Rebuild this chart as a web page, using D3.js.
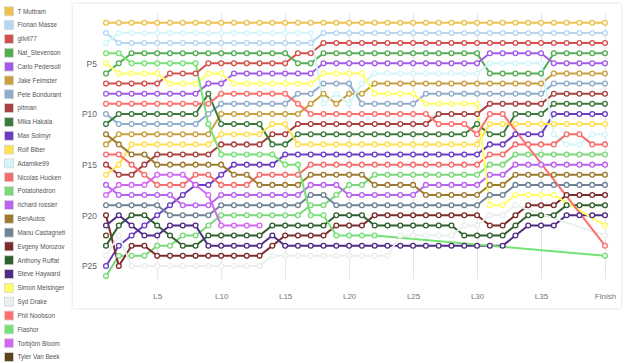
<!DOCTYPE html>
<html>
<head>
<meta charset="utf-8">
<script src="https://cdn.jsdelivr.net/npm/d3@7/dist/d3.min.js"></script>
<style>
  body { margin: 0; background: #fff; }
  text { font-family: "Liberation Sans", Arial, sans-serif; }
</style>
</head>
<body>
<svg id="chart" width="625" height="363"></svg>
<script>
'use strict';

const laps = d3.range(1, 40).map(i => "L" + i).concat(["Finish"]);
const tickLabels = ["L5", "L10", "L15", "L20", "L25", "L30", "L35", "Finish"];
const posTicks = [5, 10, 15, 20, 25];

const drivers = ["T Muttram", "Florian Masse", "gilvil77", "Nat_Stevenson", "Carlo Pedersoli",
  "Jake Feimster", "Pete Bondurant", "pitman", "Mika Hakala", "Max Solmyr", "Rolf Biber",
  "Adamike99", "Nicolas Hucken", "Potatohedron", "richard rossier", "BenAutos",
  "Manu Castagneti", "Evgeny Morozov", "Anthony Ruffat", "Steve Hayward", "Simon Meisinger",
  "Syd Drake", "Phil Noobson", "Flashor", "Torbjörn Bloom", "Tyler Van Beek"];

const colors = ["#efc14c", "#b6d7f2", "#d3504e", "#53ad53", "#a25ae9",
  "#c8a03e", "#8fadca", "#a8413f", "#3e7a3e", "#6c3cc4", "#ffe04e",
  "#d3f6f9", "#f76b6b", "#79d879", "#ba62f2", "#9c7b2f",
  "#6e8395", "#7c2b2b", "#2f5f2f", "#4f2b86", "#ffff63",
  "#e8efec", "#ff6d6d", "#74e274", "#d466f3", "#5d451b"];

const _ = null;
// positions per lap: L1 ... L39, Finish (null = no marker on that lap)
const tMuttram   = [1,1,1,1,1,1,1,1,1,1, 1,1,1,1,1,1,1,1,1,1, 1,1,1,1,1,1,1,1,1,1, 1,1,1,1,1,1,1,1,1,1];
const florian    = [2,3,3,3,3,3,3,3,3,3, 3,3,3,3,3,3,3,2,2,2, 2,2,2,2,2,2,2,2,2,2, 2,2,2,2,2,2,2,2,2,2];
const gilvil     = [7,7,7,7,7,6,6,6,5,5, 5,5,5,5,5,4,4,3,3,3, 3,3,3,3,3,3,3,3,3,3, 3,3,3,3,3,3,3,3,3,3];
const nat        = [6,5,4,4,4,4,4,4,4,4, 4,4,4,4,4,5,5,4,4,4, 4,4,4,4,4,4,4,4,4,4, 6,6,6,6,6,4,4,4,4,4];
const carlo      = [8,8,8,8,8,8,8,8,7,7, 6,6,6,6,6,6,6,5,5,5, 5,5,5,5,5,5,5,5,5,5, 4,4,4,4,4,5,5,5,5,5];
const jake       = [13,12,12,12,12,12,12,12,12,10, 10,10,10,10,10,10,9,8,9,8, 8,7,7,7,7,7,7,7,7,7, 7,7,7,7,7,6,6,6,6,6];
const pete       = [10,11,11,11,11,11,11,11,10,9, 9,9,9,9,9,8,8,7,7,7, 9,9,9,9,9,8,8,8,8,8, 8,8,8,8,8,7,7,7,7,7];
const pitman     = [15,16,16,15,14,14,14,14,14,13, 13,13,13,12,12,11,11,11,11,11, 11,11,11,11,11,11,10,10,10,10, 9,9,9,9,9,8,8,8,8,8];
const mika       = [11,10,10,10,10,10,10,10,8,11, 11,11,11,13,13,12,12,12,12,12, 12,12,12,12,12,12,12,12,12,11, 12,12,10,10,10,9,9,9,9,9];
const max        = [25,23,22,21,20,19,18,17,17,16, 15,15,15,15,14,14,14,14,14,14, 14,14,14,14,14,14,14,14,14,14, 13,13,12,12,12,10,10,10,10,10];
const rolf       = [16,15,13,13,13,13,13,13,13,12, 12,12,12,11,11,13,13,13,13,13, 13,13,13,13,13,13,13,13,13,13, 11,11,11,11,11,11,11,11,11,11];
const adamike    = [3,2,2,2,2,2,2,2,2,2, 2,2,2,2,2,2,2,9,8,9, 7,6,6,6,6,6,6,6,6,6, 5,5,5,5,5,12,13,13,12,12];
const nicolas    = [14,14,15,16,17,17,17,16,16,17, 17,17,16,16,16,16,15,15,15,15, 15,15,15,15,15,15,15,15,15,15, 14,14,13,13,13,13,12,12,13,13];
const potato     = [26,24,24,24,23,23,22,22,21,20, 20,20,20,20,20,20,19,19,18,17, 17,16,16,16,16,16,16,16,16,16, 15,15,14,14,14,14,14,14,14,14];
const richard    = [17,18,18,18,18,18,19,19,19,18, 18,18,18,18,18,18,17,17,17,18, 18,18,18,18,18,17,17,17,17,17, 16,16,15,15,15,15,15,15,15,15];
const benAutos   = [12,13,14,14,15,15,15,15,15,15, 16,16,17,17,17,17,16,16,16,16, 16,17,17,17,17,18,18,18,18,18, 17,17,16,16,16,16,16,16,16,16];
const manu       = [19,19,19,19,19,20,20,20,20,19, 19,19,19,19,19,19,18,18,19,19, 19,19,19,19,19,19,19,19,19,19, 18,18,17,17,17,17,17,17,17,17];
const evgeny     = [20,25,23,23,24,24,24,24,24,24, 24,24,24,23,22,22,22,22,21,21, 21,20,20,20,20,20,20,20,20,20, 21,21,20,19,19,19,18,18,18,18];
const anthony    = [23,21,20,20,21,22,23,23,22,22, 22,22,22,21,21,21,21,21,20,20, 20,21,21,21,21,21,21,21,22,22, 22,22,21,20,20,20,19,19,19,19];
const steve      = [21,20,21,22,22,21,21,21,23,23, 23,23,23,22,23,23,23,23,23,23, 23,23,23,23,23,23,23,23,23,23, 23,23,22,21,21,21,20,20,20,20];
const simon      = [5,6,6,6,6,7,7,7,6,6, 7,7,7,7,7,7,7,6,6,6, 6,8,8,8,8,9,9,9,9,9, 19,19,18,18,18,18,_,_,_,21];
const syd        = [24,22,25,25,25,25,25,25,25,25, 25,25,25,24,24,24,24,24,24,24, 24,24,24,22,22,22,22,22,21,21, 20,20,19,_,_,_,_,_,_,22];
const phil       = [9,9,9,9,9,9,9,9,9,8, 8,8,8,8,8,9,10,10,10,10, 10,10,10,10,10,10,11,11,11,12, 10,10,_,_,_,_,_,_,_,23];
const flashor    = [4,4,5,5,5,5,5,5,11,14, 14,14,14,14,15,15,20,20,22,22, 22,22,_,_,_,_,_,_,_,_, _,_,_,_,_,_,_,_,_,24];
const torbjorn   = [18,17,17,17,16,16,16,17,18,21, 21,21,21,_,_,_,_,_,_,_, _,_,_,_,_,_,_,_,_,_, _,_,_,_,_,_,_,_,_,_];
const tyler      = [22,_,_,_,_,_,_,_,_,_, _,_,_,_,_,_,_,_,_,_, _,_,_,_,_,_,_,_,_,_, _,_,_,_,_,_,_,_,_,_];

const positions = [tMuttram, florian, gilvil, nat, carlo, jake, pete, pitman, mika, max, rolf,
  adamike, nicolas, potato, richard, benAutos, manu, evgeny, anthony, steve, simon,
  syd, phil, flashor, torbjorn, tyler];

const series = drivers.map((name, k) => ({
  name,
  color: colors[k],
  points: positions[k].map((p, i) => ({lap: laps[i], pos: p})).filter(d => d.pos != null)
}));

const svg = d3.select("#chart");

// panel
const defs = svg.append("defs");
const shadow = defs.append("filter").attr("id", "shadow")
  .attr("x", "-5%").attr("y", "-5%").attr("width", "110%").attr("height", "110%");
shadow.append("feDropShadow").attr("dx", 0).attr("dy", 0)
  .attr("stdDeviation", 1.6).attr("flood-color", "#000").attr("flood-opacity", 0.18);

svg.append("rect")
  .attr("x", 73).attr("y", 4).attr("width", 548).attr("height", 304)
  .attr("fill", "#fff").attr("filter", "url(#shadow)");

const x = d3.scalePoint().domain(laps).range([106, 605]);
const y = d3.scaleLinear().domain([1, 26]).range([22.8, 276.1]);

// grid + x labels
const xAxis = d3.axisBottom(x)
  .tickValues(tickLabels)
  .tickSize(-265)
  .tickPadding(14);
const gx = svg.append("g").attr("transform", "translate(0,279)").call(xAxis);
gx.select(".domain").remove();
gx.selectAll(".tick line").attr("stroke", "#e3e3e3").attr("stroke-width", 1);
gx.selectAll(".tick text").attr("fill", "#777").attr("font-size", 8);

// y labels
const yAxis = d3.axisLeft(y)
  .tickValues(posTicks)
  .tickFormat(d => "P" + d)
  .tickSize(0)
  .tickPadding(0);
const gy = svg.append("g").attr("transform", "translate(97,0)").call(yAxis);
gy.select(".domain").remove();
gy.selectAll(".tick text").attr("fill", "#666").attr("font-size", 8.5);

// lines
const line = d3.line().x(d => x(d.lap)).y(d => y(d.pos));

const g = svg.append("g");
series.forEach(s => {
  g.append("path")
    .attr("d", line(s.points))
    .attr("fill", "none")
    .attr("stroke", s.color)
    .attr("stroke-width", 2)
    .attr("stroke-linejoin", "round");
});
series.forEach(s => {
  g.selectAll(null)
    .data(s.points)
    .enter().append("circle")
    .attr("cx", d => x(d.lap))
    .attr("cy", d => y(d.pos))
    .attr("r", 2.4)
    .attr("fill", "#fff")
    .attr("stroke", s.color)
    .attr("stroke-width", 1.3);
});

// legend
const legend = svg.append("g");
const item = legend.selectAll("g")
  .data(series)
  .enter().append("g")
  .attr("transform", (d, i) => `translate(0,${11.3 + i * 13.83})`);
item.append("rect")
  .attr("x", 4.5).attr("y", -4.5)
  .attr("width", 9).attr("height", 9)
  .attr("fill", d => d.color)
  .attr("stroke", "#d6d6d6").attr("stroke-width", 0.8);
item.append("text")
  .attr("x", 17.5).attr("y", 2.3)
  .attr("fill", "#555")
  .attr("font-size", 6.3)
  .text(d => d.name);
</script>
</body>
</html>
